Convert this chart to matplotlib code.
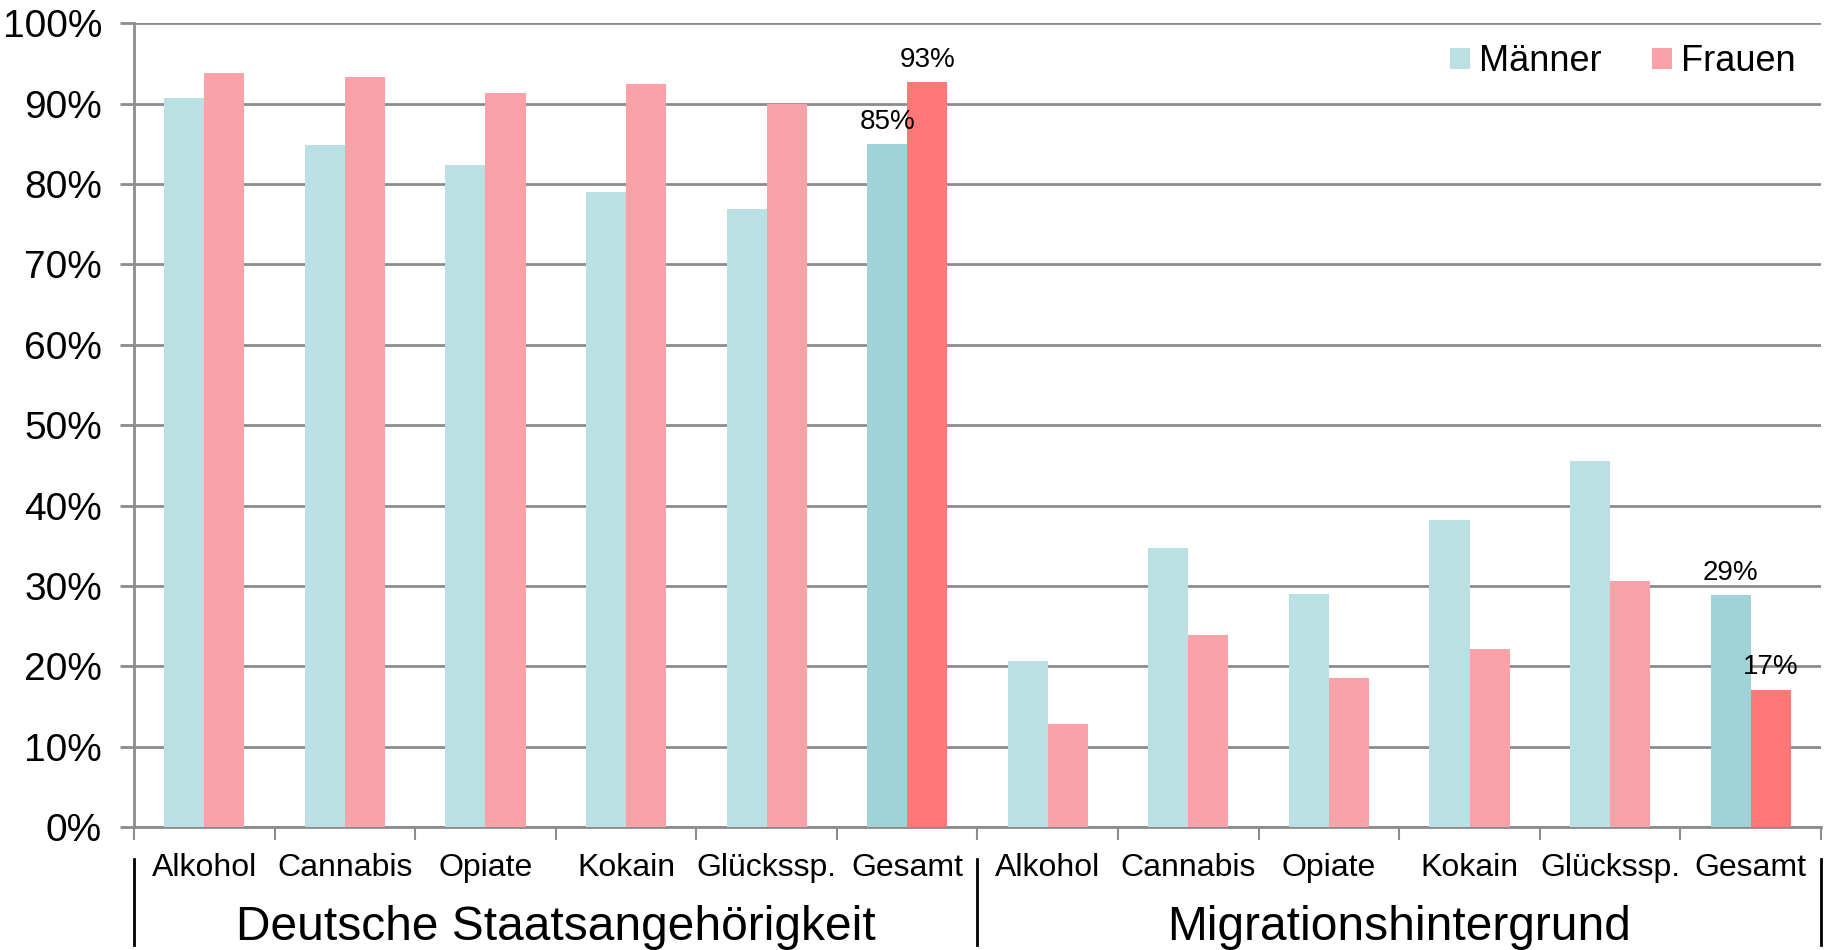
import matplotlib
matplotlib.use("Agg")
import matplotlib.pyplot as plt
from matplotlib.patches import Patch
from matplotlib.lines import Line2D
import numpy as np

plt.rcParams['font.family'] = ['Liberation Sans', 'DejaVu Sans']

categories = ["Alkohol", "Cannabis", "Opiate", "Kokain", "Glücksspiel", "Gesamt",
              "Alkohol", "Cannabis", "Opiate", "Kokain", "Glücksspiel", "Gesamt"]
category_labels = ["Alkohol", "Cannabis", "Opiate", "Kokain", "Glückssp.", "Gesamt",
                   "Alkohol", "Cannabis", "Opiate", "Kokain", "Glückssp.", "Gesamt"]
groups = ["Deutsche Staatsangehörigkeit", "Migrationshintergrund"]
maenner = [90.7, 84.9, 82.4, 79.0, 76.9, 85.0, 20.6, 34.7, 29.0, 38.2, 45.6, 28.9]
frauen = [93.8, 93.3, 91.3, 92.5, 90.0, 92.7, 12.8, 23.9, 18.6, 22.1, 30.6, 17.1]
labelled = [5, 11]
yticks = [0, 10, 20, 30, 40, 50, 60, 70, 80, 90, 100]

c_m, c_f = "#BBE0E3", "#FBA1A8"
c_m_tot, c_f_tot = "#9FD3D8", "#FF7777"
grid_c = "#8C8C8C"

fig = plt.figure(figsize=(18.29, 9.5), dpi=100)
ax = fig.add_axes([134/1829, 123/950, 1687/1829, 803.7/950])

x = np.arange(len(categories))
w = 0.285
cm = [c_m_tot if i in labelled else c_m for i in x]
cf = [c_f_tot if i in labelled else c_f for i in x]
ax.bar(x - w/2, maenner, w, color=cm, zorder=3)
ax.bar(x + w/2, frauen, w, color=cf, zorder=3)

for i in labelled:
    ax.annotate(f"{maenner[i]:.0f}%", (x[i] - w/2, maenner[i]), xytext=(0, 16),
                textcoords="offset points", ha="center", va="center", fontsize=20, zorder=5)
    ax.annotate(f"{frauen[i]:.0f}%", (x[i] + w/2, frauen[i]), xytext=(0, 16),
                textcoords="offset points", ha="center", va="center", fontsize=20, zorder=5)

ax.set_xlim(-0.5, len(categories) - 0.5)
ax.set_ylim(0, 100)
ax.set_yticks(yticks)
ax.set_yticklabels([f"{t}%" for t in yticks], fontsize=28)
ax.yaxis.grid(True, color=grid_c, linewidth=2, zorder=0)
ax.tick_params(axis="y", length=10, width=2, color=grid_c, pad=13)
ax.set_xticks(np.arange(-0.5, len(categories), 1.0))
ax.set_xticklabels([])
ax.tick_params(axis="x", length=9, width=1.5, color=grid_c, direction="out")
for s in ["top", "right"]:
    ax.spines[s].set_visible(False)
for s in ["left", "bottom"]:
    ax.spines[s].set_color(grid_c)
    ax.spines[s].set_linewidth(2)

tr = ax.get_xaxis_transform()
for i, lab in enumerate(category_labels):
    ax.text(i, -0.051, lab, transform=tr, ha="center", va="center", fontsize=23)
ax.text(2.5, -0.125, groups[0], transform=tr, ha="center", va="center", fontsize=34.5)
ax.text(8.5, -0.125, groups[1], transform=tr, ha="center", va="center", fontsize=34.5)
for xv in [-0.5, 5.5, 11.5]:
    ax.add_line(Line2D([xv, xv], [-0.04, -0.147], transform=tr, color="black",
                       linewidth=2, clip_on=False))

handles = [Patch(facecolor=c_m), Patch(facecolor=c_f)]
ax.legend(handles, ["Männer", "Frauen"], loc="center right", bbox_to_anchor=(0.985, 0.952),
          ncol=2, frameon=False, fontsize=26, handlelength=0.55, handleheight=0.55,
          handletextpad=0.25, columnspacing=1.4, borderpad=0, borderaxespad=0)

fig.savefig("out.png", dpi=100)
